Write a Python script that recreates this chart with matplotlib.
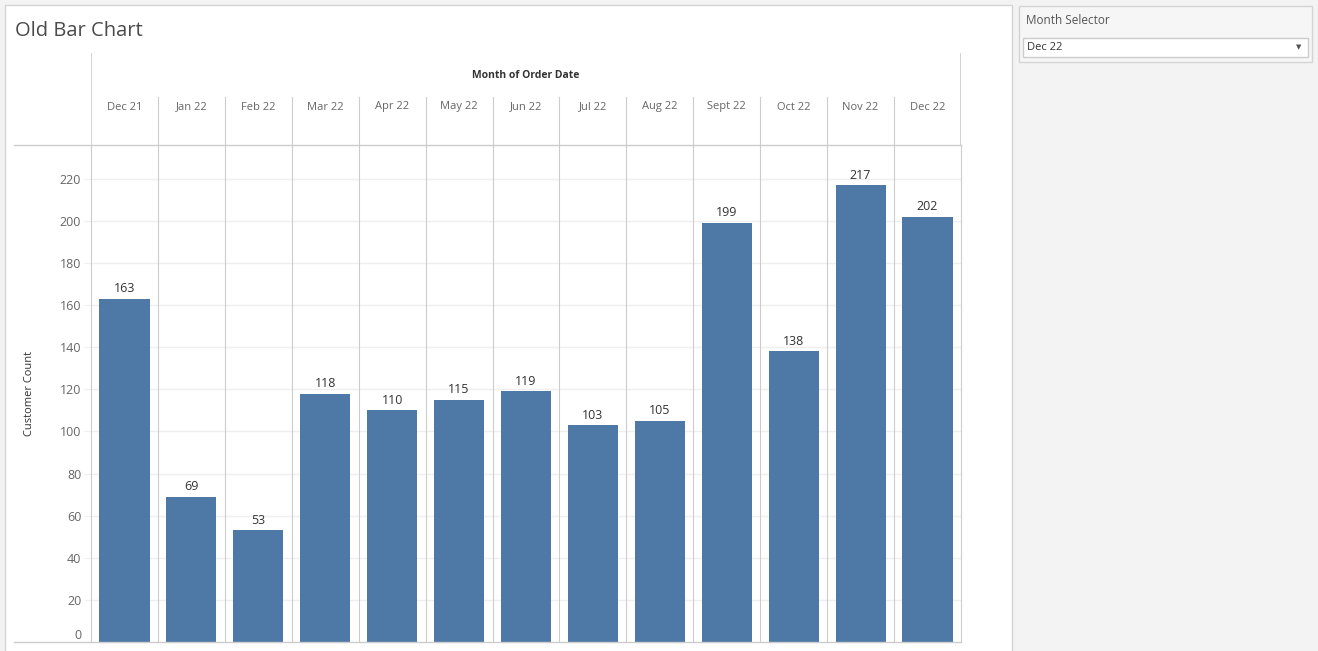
import matplotlib
matplotlib.use("Agg")
import matplotlib.pyplot as plt
from matplotlib.patches import Rectangle
from matplotlib.lines import Line2D

months = ["Dec 21", "Jan 22", "Feb 22", "Mar 22", "Apr 22", "May 22", "Jun 22",
          "Jul 22", "Aug 22", "Sept 22", "Oct 22", "Nov 22", "Dec 22"]
customer_count = [163, 69, 53, 118, 110, 115, 119, 103, 105, 199, 138, 217, 202]
y_ticks = [0, 20, 40, 60, 80, 100, 120, 140, 160, 180, 200, 220]
selected_month = "Dec 22"

W, H = 1318, 651
plt.rcParams['font.family'] = ['Open Sans', 'DejaVu Sans']
fig = plt.figure(figsize=(W / 100, H / 100), dpi=100)
fig.patch.set_facecolor("#f3f3f3")

def fx(x):
    return x / W

def fy(y):
    return 1 - y / H

def box(x0, y0, x1, y1):
    return [fx(x0), fy(y1), fx(x1) - fx(x0), fy(y0) - fy(y1)]

grid_c = "#cccccc"

# main white panel
fig.add_artist(Rectangle((fx(5), fy(652)), fx(1012) - fx(5), fy(5) - fy(652),
                         transform=fig.transFigure, facecolor="white",
                         edgecolor="#d4d4d4", lw=1, zorder=0))
# selector panel
fig.add_artist(Rectangle((fx(1019), fy(62)), fx(1312) - fx(1019), fy(6) - fy(62),
                         transform=fig.transFigure, facecolor="#f6f6f6",
                         edgecolor="#d4d4d4", lw=1, zorder=0))
fig.add_artist(Rectangle((fx(1023), fy(57)), fx(1308) - fx(1023), fy(38) - fy(57),
                         transform=fig.transFigure, facecolor="white",
                         edgecolor="#cccccc", lw=1, zorder=1))
fig.text(fx(1026), fy(21), "Month Selector", fontsize=8.5, color="#555555",
         ha="left", va="center")
fig.text(fx(1027), fy(47.5), selected_month, fontsize=8, color="#333333",
         ha="left", va="center")
fig.text(fx(1299), fy(47.5), "\u25BC", fontsize=5, color="#555555",
         ha="center", va="center", family="DejaVu Sans")

# title
fig.text(fx(15), fy(31.5), "Old Bar Chart", fontsize=14.5, color="#4a4a4a",
         ha="left", va="center")

# horizontal frame lines
fig.add_artist(Line2D([fx(14), fx(961)], [fy(145), fy(145)], color=grid_c, lw=1,
                      transform=fig.transFigure))
fig.add_artist(Line2D([fx(14), fx(961)], [fy(642), fy(642)], color=grid_c, lw=1,
                      transform=fig.transFigure))

n = len(months)

# header axes
hax = fig.add_axes(box(91, 53, 961, 145))
hax.set_xlim(-0.5, n - 0.5)
hax.set_ylim(0, 1)
hax.axis("off")
for i in range(1, n):
    hax.axvline(i - 0.5, ymin=0, ymax=48 / 92, color=grid_c, lw=0.8)
hax.axvline(-0.5, color=grid_c, lw=1.2)
hax.axvline(n - 0.5, color=grid_c, lw=1.2)
hax.text((n - 1) / 2, 1 - 23 / 92, "Month of Order Date", fontsize=7.5, fontweight="bold",
         color="#333333", ha="center", va="center")
for i, m in enumerate(months):
    hax.text(i, 1 - 54 / 92, m, fontsize=8, color="#666666", ha="center", va="center")

# main axes
ax = fig.add_axes(box(91, 145, 961, 642))
ax.set_facecolor("none")
ax.set_xlim(-0.5, n - 0.5)
ax.set_ylim(0, 236)
for s in ax.spines.values():
    s.set_visible(False)
ax.spines["left"].set_visible(True)
ax.spines["left"].set_color(grid_c)
ax.spines["right"].set_visible(True)
ax.spines["right"].set_color(grid_c)
for t in y_ticks[1:]:
    ax.axhline(t, color="#efefef", lw=1, zorder=0)
for i in range(1, n):
    ax.axvline(i - 0.5, color=grid_c, lw=0.8, zorder=1)

bars = ax.bar(range(n), customer_count, width=0.75, color="#4e79a7", zorder=2)
for i, v in enumerate(customer_count):
    ax.annotate(str(v), (i, v), xytext=(0, 2.5), textcoords="offset points",
                ha="center", va="bottom", fontsize=9, color="#333333")

ax.set_xticks([])
ax.set_yticks(y_ticks)
ax.set_yticklabels([str(t) for t in y_ticks])
ax.tick_params(axis="y", length=5, color="#efefef", labelcolor="#666666",
               labelsize=9, pad=2)
ax.get_yticklabels()[0].set_verticalalignment("bottom")

fig.text(fx(30), fy(393), "Customer Count", rotation=90, fontsize=8,
         color="#333333", ha="center", va="center")

fig.savefig("out.png", dpi=100, facecolor=fig.get_facecolor())
